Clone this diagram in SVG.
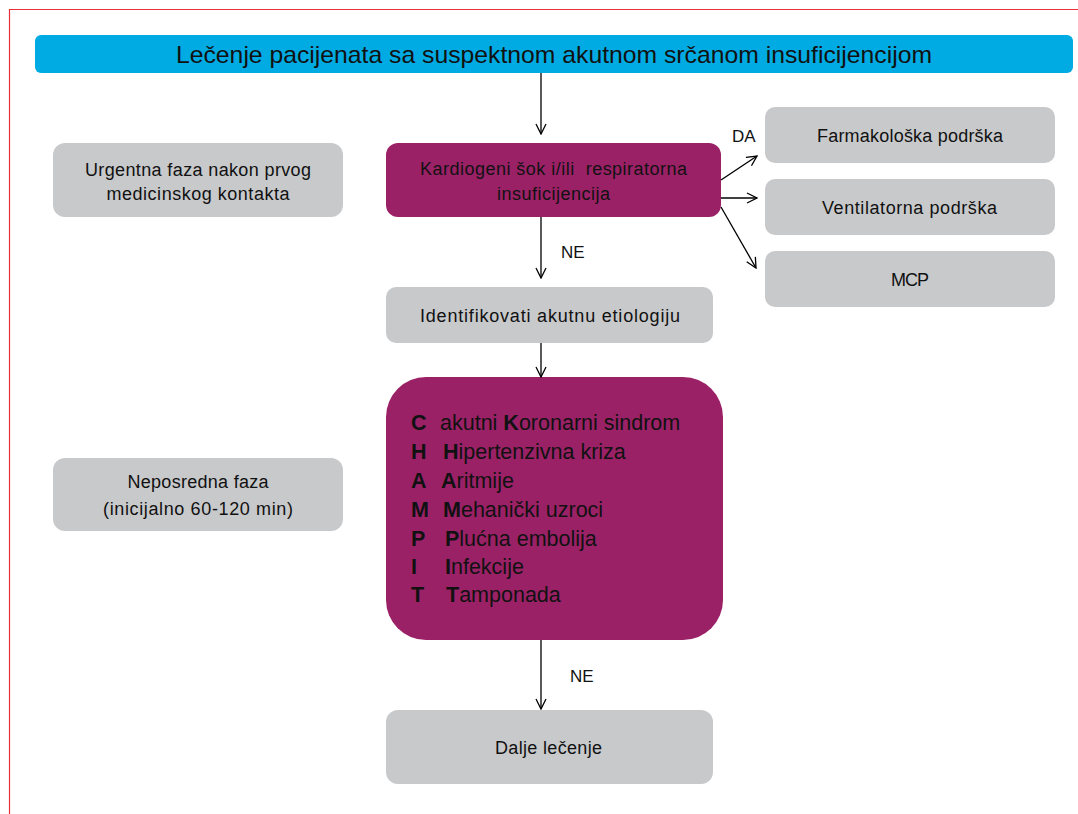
<svg xmlns="http://www.w3.org/2000/svg" width="1078" height="814" viewBox="0 0 1078 814">
  <defs>
    <marker id="arrow" viewBox="0 0 12 12" refX="11" refY="6" markerWidth="12" markerHeight="12" markerUnits="userSpaceOnUse" orient="auto">
      <path d="M1,1 L11,6 L1,11" fill="none" stroke="#000" stroke-width="1.3"/>
    </marker>
    <style>
      text { font-family: "Liberation Sans", Arial, sans-serif; fill: #111; }
      .gray { fill: #C8C9CB; }
      .plum { fill: #9B2167; }
      .lbl { font-size: 18px; text-anchor: middle; }
      .tag { font-size: 17px; }
      .champ { font-size: 21.5px; }
      .champ .k { font-weight: bold; }
      .conn line { stroke: #000; stroke-width: 1.3; marker-end: url(#arrow); }
    </style>
  </defs>
  <rect width="1078" height="814" fill="#fff"/>
  <!-- page frame -->
  <path d="M9.5,814 V9.5 H1078" fill="none" stroke="#E8303A" stroke-width="1.2"/>

  <g id="title">
    <rect x="35" y="35" width="1038" height="38" rx="6" fill="#00ABE3"/>
    <text x="554" y="63" font-size="24" text-anchor="middle" textLength="756" lengthAdjust="spacingAndGlyphs">Lečenje pacijenata sa suspektnom akutnom srčanom insuficijencijom</text>
  </g>

  <g id="phase-urgent">
    <rect class="gray" x="53" y="143" width="290" height="74" rx="12"/>
    <text class="lbl" x="198" y="176" textLength="226" lengthAdjust="spacing">Urgentna faza nakon prvog</text>
    <text class="lbl" x="198" y="200" textLength="183" lengthAdjust="spacing">medicinskog kontakta</text>
  </g>

  <g id="phase-immediate">
    <rect class="gray" x="53" y="458" width="290" height="73" rx="12"/>
    <text class="lbl" x="198" y="488" textLength="141" lengthAdjust="spacing">Neposredna faza</text>
    <text class="lbl" x="198" y="515" textLength="190" lengthAdjust="spacing">(inicijalno 60-120 min)</text>
  </g>

  <g id="shock">
    <rect class="plum" x="386" y="143" width="335" height="74" rx="12"/>
    <text class="lbl" x="553.5" y="175" textLength="267" lengthAdjust="spacing" xml:space="preserve">Kardiogeni šok i/ili  respiratorna</text>
    <text class="lbl" x="553.5" y="200" textLength="113" lengthAdjust="spacing">insuficijencija</text>
  </g>

  <g id="pharma">
    <rect class="gray" x="765" y="107" width="290" height="56" rx="10"/>
    <text class="lbl" x="910" y="142" textLength="186" lengthAdjust="spacing">Farmakološka podrška</text>
  </g>

  <g id="ventilation">
    <rect class="gray" x="765" y="179" width="290" height="56" rx="10"/>
    <text class="lbl" x="909.5" y="214" textLength="175" lengthAdjust="spacing">Ventilatorna podrška</text>
  </g>

  <g id="mcp">
    <rect class="gray" x="765" y="251" width="290" height="56" rx="10"/>
    <text class="lbl" x="910" y="286" textLength="38" lengthAdjust="spacing">MCP</text>
  </g>

  <g id="etiology">
    <rect class="gray" x="386" y="287" width="327" height="56" rx="10"/>
    <text class="lbl" x="550" y="322" textLength="260" lengthAdjust="spacing">Identifikovati akutnu etiologiju</text>
  </g>

  <g id="champ">
    <rect class="plum" x="386" y="377" width="337" height="263" rx="40"/>
    <text class="champ" y="430"><tspan class="k" x="411">C</tspan><tspan x="440">akutni </tspan><tspan class="k">K</tspan><tspan>oronarni sindrom</tspan></text>
    <text class="champ" y="459"><tspan class="k" x="411">H</tspan><tspan class="k" x="443">H</tspan><tspan>ipertenzivna kriza</tspan></text>
    <text class="champ" y="488"><tspan class="k" x="411">A</tspan><tspan class="k" x="441">A</tspan><tspan>ritmije</tspan></text>
    <text class="champ" y="517"><tspan class="k" x="411">M</tspan><tspan class="k" x="443">M</tspan><tspan>ehanički uzroci</tspan></text>
    <text class="champ" y="546"><tspan class="k" x="411">P</tspan><tspan class="k" x="445">P</tspan><tspan>lućna embolija</tspan></text>
    <text class="champ" y="574"><tspan class="k" x="411">I</tspan><tspan class="k" x="445">I</tspan><tspan>nfekcije</tspan></text>
    <text class="champ" y="602"><tspan class="k" x="411">T</tspan><tspan class="k" x="446">T</tspan><tspan>amponada</tspan></text>
  </g>

  <g id="further">
    <rect class="gray" x="386" y="710" width="327" height="74" rx="12"/>
    <text class="lbl" x="548.5" y="754" textLength="107" lengthAdjust="spacing">Dalje lečenje</text>
  </g>

  <g id="connectors" class="conn">
    <line x1="541" y1="73" x2="541" y2="134"/>
    <line x1="541" y1="217" x2="541" y2="278"/>
    <line x1="541" y1="343" x2="541" y2="377"/>
    <line x1="541" y1="640" x2="541" y2="709"/>
    <line x1="721" y1="180" x2="757" y2="156"/>
    <line x1="721" y1="198" x2="757" y2="198"/>
    <line x1="721" y1="207" x2="756" y2="268"/>
    <text class="tag" x="561" y="258">NE</text>
    <text class="tag" x="570" y="682">NE</text>
    <text class="tag" x="732" y="142">DA</text>
  </g>
</svg>
